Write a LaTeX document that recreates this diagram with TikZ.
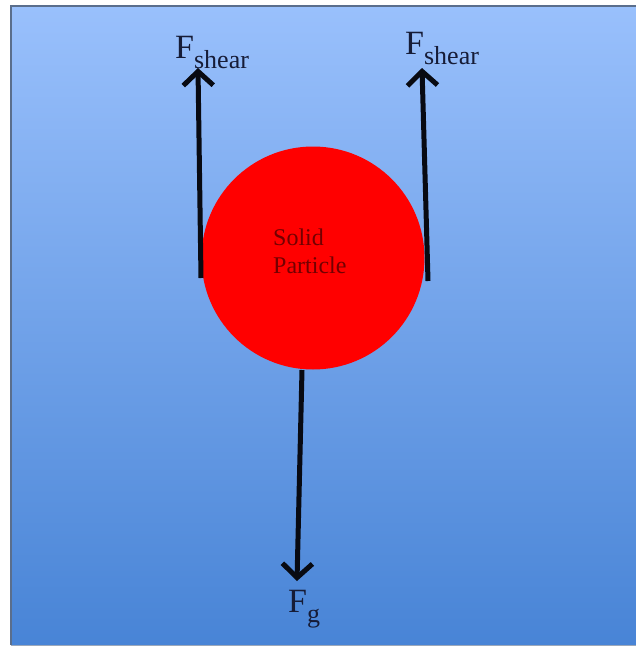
\documentclass[tikz,border=0pt]{standalone}
\usepackage{fontspec}
\setmainfont{Liberation Serif}
\usetikzlibrary{arrows.meta}
\definecolor{bgtop}{RGB}{153,192,252}
\definecolor{bgbot}{RGB}{72,132,214}
\definecolor{frame}{RGB}{90,110,140}
\definecolor{txtred}{RGB}{115,0,0}
\definecolor{ink}{RGB}{8,10,18}
\definecolor{labink}{RGB}{22,28,55}
\tikzset{
  force/.style={ink,line width=5pt,-{Straight Barb[length=14pt,width=30pt,line width=5pt]}},
  flabel/.style={anchor=base west,inner sep=0pt,text=labink,font=\fontsize{34}{34}\selectfont},
}
\newcommand{\subtxt}[1]{\raisebox{-10pt}{\fontsize{26}{26}\selectfont #1}}
\begin{document}
\begin{tikzpicture}[x=1pt,y=-1pt]
\useasboundingbox (0,0) rectangle (636,648);
\clip (0,0) rectangle (636,648);
\fill[white] (0,0) rectangle (636,648);
\shade[top color=bgtop,bottom color=bgbot] (11,6) rectangle (642,645);
\draw[frame,line width=1.5pt] (11,645) -- (11,6) -- (642,6);
\draw[frame!60,line width=1pt] (11,645) -- (642,645);
\node[circle,fill=red,minimum size=223pt,inner sep=0pt] (particle) at (313,258) {};
\node[anchor=north west,inner sep=0pt,align=left,text=txtred,font=\fontsize{24}{28}\selectfont] (lbl) at (273,229) {Solid\\Particle};
% arrows
\coordinate (lstart) at (201,278);
\coordinate (ltip) at (198,68);
\coordinate (rstart) at (428,281);
\coordinate (rtip) at (422,68);
\coordinate (bstart) at (302,370);
\coordinate (btip) at (297,581);
\draw[force] (lstart) -- (ltip);
\draw[force] (rstart) -- (rtip);
\draw[force] (bstart) -- (btip);
\node[flabel] (fl) at (175,58) {F\subtxt{shear}};
\node[flabel] (fr) at (405,54) {F\subtxt{shear}};
\node[flabel] (fg) at (288,612) {F\subtxt{g}};
\end{tikzpicture}
\end{document}
